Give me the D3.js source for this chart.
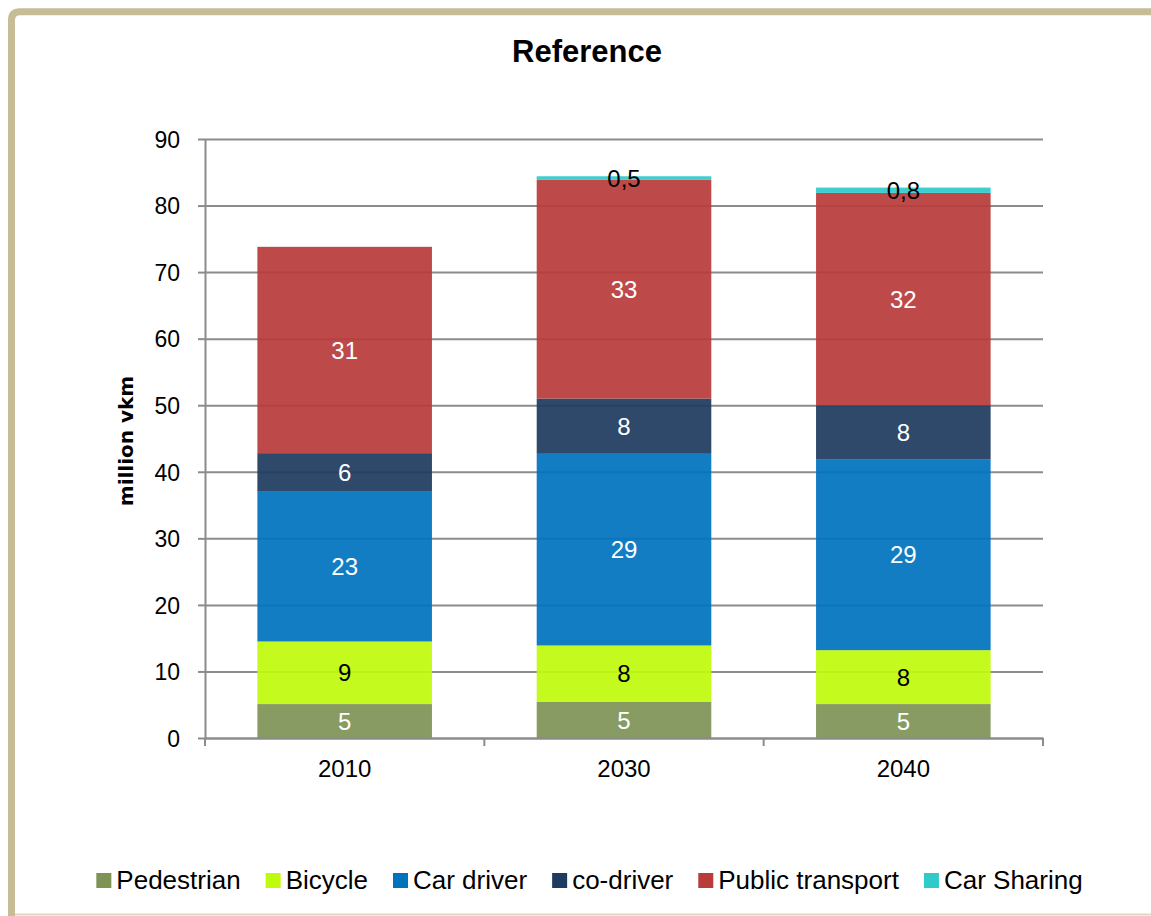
<!DOCTYPE html>
<html>
<head>
<meta charset="utf-8">
<script src="https://cdn.jsdelivr.net/npm/d3@7"></script>
<style>
  html, body { margin: 0; padding: 0; background: #fff; }
  svg { display: block; }
</style>
</head>
<body>
<svg id="chart" width="1151" height="916"></svg>
<script>
// Vehicle-km by mode, reference scenario (million vkm)
const years = ["2010", "2030", "2040"];
const modes = ["Pedestrian", "Bicycle", "Car driver", "co-driver", "Public transport", "Car Sharing"];
const pedestrian      = [5.1, 5.45, 5.1];
const bicycle         = [9.4, 8.45, 8.1];
const carDriver       = [22.5, 28.8, 28.7];
const coDriver        = [5.8, 8.3, 8.1];
const publicTransport = [31.0, 32.9, 31.9];
const carSharing      = [0, 0.5, 0.8];
const yTicks = [0, 10, 20, 30, 40, 50, 60, 70, 80, 90];
const titleText = "Reference";
const yTitle = "million vkm";

const seriesValues = [pedestrian, bicycle, carDriver, coDriver, publicTransport, carSharing];
const colors = ["#7f9357", "#c0fa0c", "#0073bd", "#1f3b5f", "#b83c3a", "#2fcaca"];
const labelColors = ["#fff", "#000", "#fff", "#fff", "#fff", "#000"];
const labelDigits = [0, 0, 0, 0, 0, 1];

const table = years.map((yr, i) => {
  const row = { year: yr };
  modes.forEach((m, k) => { row[m] = seriesValues[k][i]; });
  return row;
});

const svg = d3.select("#chart");
const W = 1151, H = 916;
const margin = { top: 139, right: 108, bottom: 178, left: 205 };
const iw = W - margin.left - margin.right;
const ih = H - margin.top - margin.bottom;
const sans = "'Liberation Sans', Arial, sans-serif";

// Frame
svg.append("path")
  .attr("d", `M11.5,${H} L11.5,20 Q11.5,11.8 20,11.8 L${W},11.8`)
  .attr("fill", "none").attr("stroke", "#c6bc96").attr("stroke-width", 7);
svg.append("line")
  .attr("x1", 15).attr("x2", W).attr("y1", 914.5).attr("y2", 914.5)
  .attr("stroke", "#dcd8c8").attr("stroke-width", 2);

const g = svg.append("g").attr("transform", `translate(${margin.left},${margin.top})`);

const x = d3.scaleBand().domain(years).range([0, iw]).paddingInner(0.375).paddingOuter(0.1875);
const y = d3.scaleLinear().domain([0, 90]).range([ih, 0]);

const gridColor = "#8c8c8c";

// Horizontal gridlines
g.append("g")
  .call(d3.axisLeft(y).tickValues(yTicks).tickSize(-iw).tickFormat(""))
  .call(s => s.select(".domain").remove())
  .call(s => s.selectAll("line").attr("stroke", gridColor).attr("stroke-width", 2));

// Y axis
g.append("g")
  .call(d3.axisLeft(y).tickValues(yTicks).tickSize(7).tickPadding(18).tickSizeOuter(0))
  .call(s => s.select(".domain").attr("stroke", gridColor).attr("stroke-width", 2))
  .call(s => s.selectAll("line").attr("stroke", gridColor).attr("stroke-width", 2))
  .call(s => s.selectAll("text")
    .attr("font-family", sans)
    .attr("font-size", 23).attr("fill", "#000").attr("dy", "0.36em"));

// Stacked bars
const stack = d3.stack().keys(modes);
const layers = stack(table);

const layerG = g.selectAll("g.layer").data(layers).join("g")
  .attr("class", "layer")
  .attr("fill", (d, i) => colors[i]);

layerG.selectAll("rect").data(d => d).join("rect")
  .attr("x", d => x(d.data.year))
  .attr("width", x.bandwidth())
  .attr("y", d => y(d[1]))
  .attr("height", d => Math.max(0, y(d[0]) - y(d[1])))
  .attr("fill-opacity", 0.93);

// X axis
g.append("g").attr("transform", `translate(0,${ih})`)
  .call(d3.axisBottom(x).tickSize(0).tickPadding(0))
  .call(s => s.select(".domain").attr("stroke", gridColor).attr("stroke-width", 2))
  .call(s => s.selectAll("text")
    .attr("font-family", sans)
    .attr("font-size", 24).attr("fill", "#000")
    .attr("y", 39).attr("dy", 0));

// Category boundary ticks
const bounds = d3.range(years.length + 1).map(i => i * x.step());
g.append("g").selectAll("line").data(bounds).join("line")
  .attr("x1", d => d).attr("x2", d => d)
  .attr("y1", ih).attr("y2", ih + 8)
  .attr("stroke", gridColor).attr("stroke-width", 2);

// Data labels
const fmtLocale = d3.formatLocale({ decimal: ",", thousands: ".", grouping: [3], currency: ["", ""] });
layers.forEach((layer, k) => {
  const fmt = fmtLocale.format(`.${labelDigits[k]}f`);
  g.append("g").selectAll("text")
    .data(layer.filter(d => d[1] - d[0] > 0))
    .join("text")
    .attr("x", d => x(d.data.year) + x.bandwidth() / 2)
    .attr("y", d => (y(d[0]) + y(d[1])) / 2)
    .attr("dy", "0.36em")
    .attr("text-anchor", "middle")
    .attr("font-family", sans)
    .attr("font-size", 24)
    .attr("fill", labelColors[k])
    .text(d => fmt(d[1] - d[0]));
});

// Title
svg.append("text")
  .attr("x", 587).attr("y", 62)
  .attr("text-anchor", "middle")
  .attr("font-family", sans)
  .attr("font-weight", "bold").attr("font-size", 31)
  .text(titleText);

// Y axis title
svg.append("text")
  .attr("transform", "translate(133,441) rotate(-90)")
  .attr("text-anchor", "middle")
  .attr("font-family", "'DejaVu Sans', Verdana, sans-serif")
  .attr("font-weight", "bold").attr("font-size", 20)
  .text(yTitle);

// Legend
const legend = svg.append("g");
const items = legend.selectAll("g").data(modes).join("g");
items.append("rect")
  .attr("width", 15).attr("height", 15).attr("y", 873)
  .attr("fill", (d, i) => colors[i]);
items.append("text")
  .attr("x", 20).attr("y", 889)
  .attr("font-family", sans)
  .attr("font-size", 26).attr("fill", "#000")
  .text(d => d);
let cursor = 0;
const gap = 25;
items.each(function () {
  const node = d3.select(this);
  node.attr("transform", `translate(${cursor},0)`);
  cursor += 20 + node.select("text").node().getComputedTextLength() + gap;
});
const total = cursor - gap;
legend.attr("transform", `translate(${589.5 - total / 2},0)`);
</script>
</body>
</html>
